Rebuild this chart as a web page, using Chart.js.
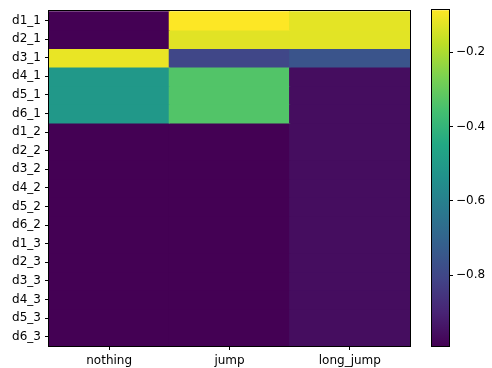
<!DOCTYPE html>
<html>
<head>
<meta charset="utf-8">
<script src="https://cdn.jsdelivr.net/npm/chart.js@4.4.1/dist/chart.umd.min.js"></script>
<style>
  html, body { margin: 0; padding: 0; background: #fff; }
  #wrap { position: relative; width: 492px; height: 368px; }
  #wrap canvas { position: absolute; left: 0; top: 0; }
</style>
</head>
<body>
<div id="wrap">
  <canvas id="heatChart" width="492" height="368"></canvas>
  <canvas id="barChart" width="492" height="368"></canvas>
</div>
<script>
// columns and rows of the heatmap
const columns = ['nothing', 'jump', 'long_jump'];
const rows = ['d1_1', 'd2_1', 'd3_1', 'd4_1', 'd5_1', 'd6_1',
              'd1_2', 'd2_2', 'd3_2', 'd4_2', 'd5_2', 'd6_2',
              'd1_3', 'd2_3', 'd3_3', 'd4_3', 'd5_3', 'd6_3'];

// one value per row, for each column
const nothingVals = [-0.99, -0.99, -0.115, -0.51, -0.51, -0.51,
                     -0.99, -0.99, -0.99, -0.99, -0.99, -0.99,
                     -0.99, -0.99, -0.99, -0.99, -0.99, -0.99];
const jumpVals = [-0.087, -0.127, -0.80, -0.334, -0.334, -0.334,
                  -0.99, -0.99, -0.99, -0.99, -0.99, -0.99,
                  -0.99, -0.99, -0.99, -0.99, -0.99, -0.99];
const longJumpVals = [-0.122, -0.125, -0.755, -0.96, -0.96, -0.96,
                      -0.96, -0.96, -0.96, -0.96, -0.96, -0.96,
                      -0.96, -0.96, -0.96, -0.96, -0.96, -0.96];

// colorbar range and ticks
const vMin = -0.991;
const vMax = -0.087;
const cbarTicks = [-0.8, -0.6, -0.4, -0.2];

const viridis = ['#440154', '#482475', '#414487', '#355f8d', '#2a788e', '#21918c',
                 '#22a884', '#44bf70', '#7ad151', '#bddf26', '#fde725'];

function hexToRgb(h) {
    return [parseInt(h.slice(1, 3), 16), parseInt(h.slice(3, 5), 16), parseInt(h.slice(5, 7), 16)];
}

function colorFor(v) {
    let t = (v - vMin) / (vMax - vMin);
    t = Math.max(0, Math.min(1, t));
    const pos = t * (viridis.length - 1);
    const i = Math.min(Math.floor(pos), viridis.length - 2);
    const f = pos - i;
    const a = hexToRgb(viridis[i]), b = hexToRgb(viridis[i + 1]);
    const c = a.map((x, k) => Math.round(x + (b[k] - x) * f));
    return 'rgb(' + c.join(',') + ')';
}

const font = { family: 'DejaVu Sans', size: 12 };

const frame = {
    id: 'frame',
    afterDatasetsDraw(chart) {
        const a = chart.chartArea;
        const ctx = chart.ctx;
        ctx.save();
        ctx.strokeStyle = '#000';
        ctx.lineWidth = 1;
        ctx.strokeRect(Math.round(a.left) - 0.5, Math.round(a.top) - 0.5,
                       Math.round(a.right - a.left) + 1, Math.round(a.bottom - a.top) + 1);
        ctx.restore();
    }
};

// heatmap: one floating bar dataset per row
const colVals = [nothingVals, jumpVals, longJumpVals];
const heatDatasets = rows.map((r, i) => ({
    label: r,
    data: columns.map(() => [i, i + 1]),
    backgroundColor: columns.map((c, j) => colorFor(colVals[j][i])),
    borderWidth: 0,
    inflateAmount: 0.6,
    barPercentage: 1,
    categoryPercentage: 1,
    grouped: false
}));

new Chart(document.getElementById('heatChart'), {
    type: 'bar',
    data: { labels: columns, datasets: heatDatasets },
    options: {
        responsive: false,
        animation: false,
        layout: { padding: { top: 9, right: 82, left: 0, bottom: 0 } },
        plugins: { legend: { display: false }, tooltip: { enabled: false } },
        scales: {
            x: {
                offset: true,
                grid: { display: true, offset: false, drawOnChartArea: false, tickLength: 4, color: '#000', tickWidth: 1 },
                border: { display: false },
                ticks: { color: '#000', font: font, padding: 4, maxRotation: 0 },
                afterFit: s => { s.height = 22; }
            },
            y: {
                type: 'linear',
                reverse: true,
                min: 0,
                max: rows.length,
                grid: { display: true, drawOnChartArea: false, tickLength: 4, color: '#000', tickWidth: 1 },
                border: { display: false },
                afterBuildTicks: s => { s.ticks = rows.map((r, i) => ({ value: i + 0.5 })); },
                ticks: {
                    color: '#000', font: font, padding: 4, autoSkip: false,
                    callback: (v) => rows[Math.floor(v)]
                },
                afterFit: s => { s.width = 49; }
            }
        }
    },
    plugins: [frame]
});

// colorbar
new Chart(document.getElementById('barChart'), {
    type: 'bar',
    data: {
        labels: [''],
        datasets: [{
            data: [[vMin, vMax]],
            barPercentage: 1,
            categoryPercentage: 1,
            borderWidth: 0,
            backgroundColor: (ctx) => {
                const area = ctx.chart.chartArea;
                if (!area) return viridis[0];
                const g = ctx.chart.ctx.createLinearGradient(0, area.bottom, 0, area.top);
                viridis.forEach((c, i) => g.addColorStop(i / (viridis.length - 1), c));
                return g;
            }
        }]
    },
    options: {
        responsive: false,
        animation: false,
        layout: { padding: { top: 10, right: 0, left: 432, bottom: 22 } },
        plugins: { legend: { display: false }, tooltip: { enabled: false } },
        scales: {
            x: { display: false },
            y: {
                position: 'right',
                min: vMin,
                max: vMax,
                grid: { display: true, drawOnChartArea: false, tickLength: 4, color: '#000', tickWidth: 1 },
                border: { display: false },
                afterBuildTicks: s => { s.ticks = cbarTicks.map(v => ({ value: v })); },
                ticks: {
                    color: '#000', font: font, padding: 3,
                    callback: v => '\u2212' + Math.abs(v).toFixed(1)
                },
                afterFit: s => { s.width = 43; }
            }
        }
    },
    plugins: [frame]
});
</script>
</body>
</html>
